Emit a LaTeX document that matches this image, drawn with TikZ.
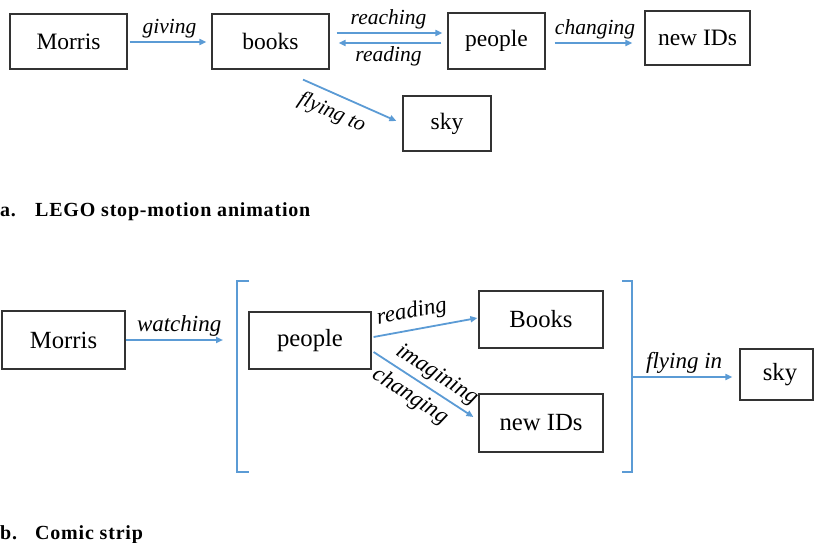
\documentclass[tikz,border=0pt]{standalone}
\usepackage{fontspec}
\setmainfont{Liberation Serif}
\newfontfamily\capfont[LetterSpace=4]{Liberation Serif}
\usetikzlibrary{arrows.meta}
\definecolor{arrowblue}{HTML}{5B9BD5}
\definecolor{boxline}{HTML}{333333}
\begin{document}
\begin{tikzpicture}[x=1pt,y=-1pt,
  box/.style={draw=boxline,line width=1.2pt,inner sep=0pt,minimum width=#1},
  toptext/.style={font=\fontsize{23.5}{26}\selectfont},
  bottext/.style={font=\fontsize{24.7}{27}\selectfont},
  conn/.style={draw=arrowblue,line width=1.8pt,-{Triangle[length=7pt,width=6pt]}},
  brack/.style={draw=arrowblue,line width=1.9pt},
  toplab/.style={font=\fontsize{21.5}{24}\selectfont\itshape,inner sep=3pt},
  botlab/.style={font=\fontsize{23}{26}\selectfont\itshape,inner sep=3pt},
  captext/.style={font=\fontsize{20}{22}\selectfont\bfseries\capfont,inner sep=0pt,anchor=base west}]
\clip (0,0) rectangle (814,543);
\useasboundingbox (0,0) rectangle (814,543);
% ---------- a ----------
\node[box=117pt,minimum height=55pt,toptext] (m1) at (68.5,41.5) {Morris};
\node[box=117pt,minimum height=55pt,toptext] (b1) at (270.5,41.5) {books};
\node[box=97pt,minimum height=56pt,toptext] (p1) at (496.5,41) {people};
\node[box=105pt,minimum height=54pt,toptext] (n1) at (697.5,38) {new IDs};
\node[box=88pt,minimum height=55pt,toptext] (s1) at (447,123.5) {sky};

\draw[conn,shorten <=2pt,shorten >=5pt] ([shift={(0,0.5)}]m1.east) -- node[toplab,above] {giving} ([shift={(0,0.5)}]b1.west);
\draw[conn,shorten <=7pt,shorten >=5pt] ([shift={(0,-8.5)}]b1.east) -- node[toplab,above] {reaching} ([shift={(0,-8)}]p1.west);
\draw[conn,shorten <=6pt,shorten >=9pt] ([shift={(0,2)}]p1.west) -- node[toplab,below] {reading} ([shift={(0,1.5)}]b1.east);
\draw[conn,shorten <=9pt,shorten >=12pt] ([shift={(0,2)}]p1.east) -- node[toplab,above] {changing} ([shift={(0,5)}]n1.west);
\draw[conn] ([shift={(32.5,10)}]b1.south) -- node[toplab,below=5pt,sloped,pos=0.39] {flying to} ([shift={(-6,-2.5)}]s1.west);

\node[captext] (ca) at (0,216.7) {a.};
\node[captext] (cat) at (35,216.7) {LEGO stop-motion animation};

% ---------- b ----------
\node[box=123pt,minimum height=58pt,bottext] (m2) at (63.5,340) {Morris};
\node[box=122pt,minimum height=57pt,bottext] (p2) at (310,340.5) {people};
\node[box=124pt,minimum height=57pt,bottext] (b2) at (541,319.5) {Books};
\node[box=124pt,minimum height=58pt,bottext] (n2) at (541,423) {new IDs};
\node[box=73pt,minimum height=51pt,bottext,text width=73pt,align=center] (s2) at (776.5,374.5) {\hspace*{7pt}sky};

\coordinate (lbt) at (249,281);
\coordinate (lbtc) at (237,281);
\coordinate (lbbc) at (237,472);
\coordinate (lbb) at (249,472);
\coordinate (rbt) at (622,281);
\coordinate (rbtc) at (632,281);
\coordinate (rbbc) at (632,472);
\coordinate (rbb) at (622,472);
\coordinate (lbin) at (223,340);
\coordinate (rbout) at (632,377);
\draw[brack] (lbt) -- (lbtc) -- (lbbc) -- (lbb);
\draw[brack] (rbt) -- (rbtc) -- (rbbc) -- (rbb);

\draw[conn] (m2.east) -- node[botlab,above,pos=0.55] {watching} (lbin);
\draw[conn] (rbout) -- node[botlab,above,pos=0.52] {flying in} ([shift={(-7,0)}]s2.west |- rbout);
\draw[conn] ([shift={(2,-3.5)}]p2.east) -- node[botlab,above=3pt,sloped,pos=0.4] {reading} ([shift={(-1,-1.5)}]b2.west);
\draw[conn] ([shift={(2,11.5)}]p2.east) -- node[botlab,above=1pt,sloped,pos=0.55] {imagining} node[botlab,below=3pt,sloped,pos=0.46] {changing} ([shift={(-5,-6)}]n2.west);

\node[captext] (cb) at (0,539) {b.};
\node[captext] (cbt) at (35,539) {Comic strip};
\end{tikzpicture}
\end{document}
